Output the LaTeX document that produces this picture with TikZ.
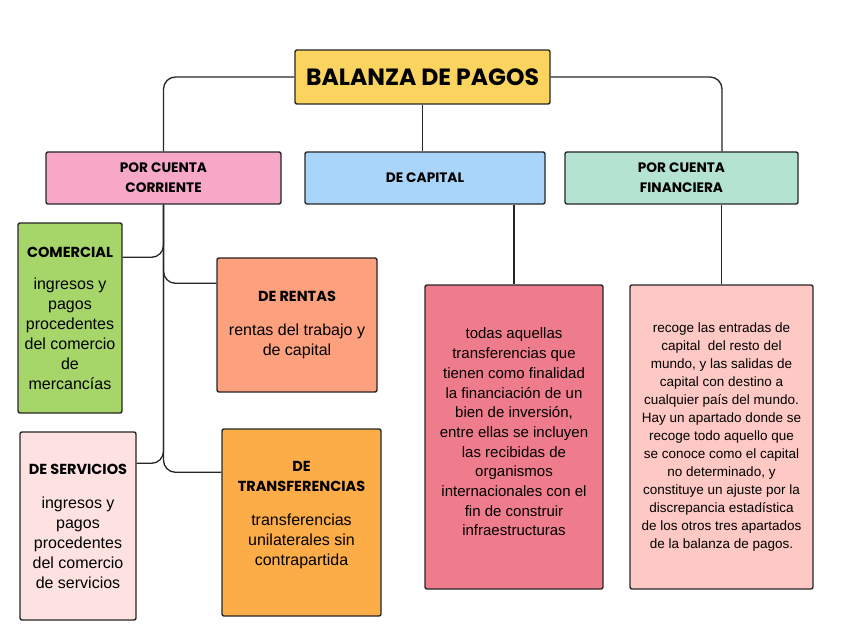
\documentclass[tikz,border=0pt]{standalone}
\usepackage{fontspec}
\setmainfont{Liberation Sans}
\newfontfamily\cabfont{Poppins}
\definecolor{amarillo}{RGB}{251,211,95}
\definecolor{rosa}{RGB}{247,168,198}
\definecolor{azul}{RGB}{170,213,251}
\definecolor{menta}{RGB}{181,227,210}
\definecolor{verde}{RGB}{166,213,106}
\definecolor{salmon}{RGB}{252,160,126}
\definecolor{rosaclaro}{RGB}{253,226,225}
\definecolor{naranja}{RGB}{253,173,72}
\definecolor{frambuesa}{RGB}{239,124,140}
\definecolor{coral}{RGB}{254,201,196}
\newcommand{\cab}[1]{{\cabfont\bfseries\fontsize{14.5}{19}\selectfont #1}}
\tikzset{
  caja/.style={draw=black!85, line width=1.4pt, rounded corners=2pt, align=center, inner sep=2pt},
  titulo/.style={caja, fill=amarillo, minimum width=255pt, minimum height=54pt,
    font=\cabfont\bfseries\fontsize{23.5}{26}\selectfont},
  cat/.style={caja, minimum width=235pt, minimum height=52pt,
    font=\cabfont\bfseries\fontsize{13.7}{20}\selectfont},
  hoja/.style={caja, font=\fontsize{16}{20}\selectfont},
  linea/.style={line width=1.3pt, black!85, rounded corners=12pt},
}
\begin{document}
\begin{tikzpicture}[x=1pt,y=-1pt]
  \useasboundingbox (0,0) rectangle (848,636);
  % titulo
  \node[titulo] (balanza) at (422.5,77) {BALANZA DE PAGOS};
  % cuentas
  \node[cat, fill=rosa] (corriente) at (163.5,178) {POR CUENTA\\CORRIENTE};
  \node[cat, fill=azul, minimum width=240pt] (capital) at (425,178) {DE CAPITAL};
  \node[cat, fill=menta, minimum width=233pt] (financiera) at (681.5,178) {POR CUENTA\\FINANCIERA};
  % cuenta corriente
  \node[hoja, fill=verde, minimum width=104pt, minimum height=190pt] (comercial) at (70,318)
    {\cab{COMERCIAL}\\[12pt] ingresos y\\pagos\\procedentes\\del comercio\\de\\mercancías};
  \node[hoja, fill=salmon, minimum width=160pt, minimum height=134pt] (rentas) at (297,325)
    {\cab{DE RENTAS}\\[14pt] rentas del trabajo y\\de capital};
  \node[hoja, fill=rosaclaro, minimum width=116pt, minimum height=188pt] (servicios) at (78,526)
    {\cab{DE SERVICIOS}\\[14pt] ingresos y\\pagos\\procedentes\\del comercio\\de servicios};
  \node[hoja, fill=naranja, minimum width=159pt, minimum height=187pt] (transferencias) at (301.5,522.5)
    {\cab{DE}\\\cab{TRANSFERENCIAS}\\[14pt] transferencias\\unilaterales sin\\contrapartida\rule[-18pt]{0pt}{0pt}};
  % detalles
  \node[hoja, fill=frambuesa, minimum width=178pt, minimum height=304pt,
    font=\fontsize{15}{19.7}\selectfont] (capitaldet) at (514,437)
    {todas aquellas\\transferencias que\\tienen como finalidad\\la financiación de un\\bien de inversión,\\entre ellas se incluyen\\las recibidas de\\organismos\\internacionales con el\\fin de construir\\infraestructuras\rule[-10pt]{0pt}{0pt}};
  \node[hoja, fill=coral, minimum width=183pt, minimum height=304pt,
    font=\fontsize{13.5}{18}\selectfont] (financieradet) at (721.5,437)
    {recoge las entradas de\\capital \ del resto del\\mundo, y las salidas de\\capital con destino a\\cualquier país del mundo.\\Hay un apartado donde se\\recoge todo aquello que\\se conoce como el capital\\no determinado, y\\constituye un ajuste por la\\discrepancia estadística\\de los otros tres apartados\\de la balanza de pagos.};
  % conectores
  \draw[linea] (balanza.west) -| (corriente.north);
  \draw[linea] (balanza.east) -| ([xshift=40.5pt]financiera.north);
  \draw[linea] (balanza.south) -- (balanza.south |- capital.north);
  \draw[linea] (capitaldet.north) -- (capitaldet.north |- capital.south);
  \draw[linea] (financieradet.north) -- (financieradet.north |- financiera.south);
  \draw[linea] (corriente.south) |- ([yshift=-35pt]comercial.north east);
  \draw[linea] (corriente.south) |- ([yshift=-26pt]rentas.north west);
  \draw[linea] (corriente.south) |- ([yshift=-32pt]servicios.north east);
  \draw[linea] (corriente.south) |- ([yshift=-44pt]transferencias.north west);
\end{tikzpicture}
\end{document}
